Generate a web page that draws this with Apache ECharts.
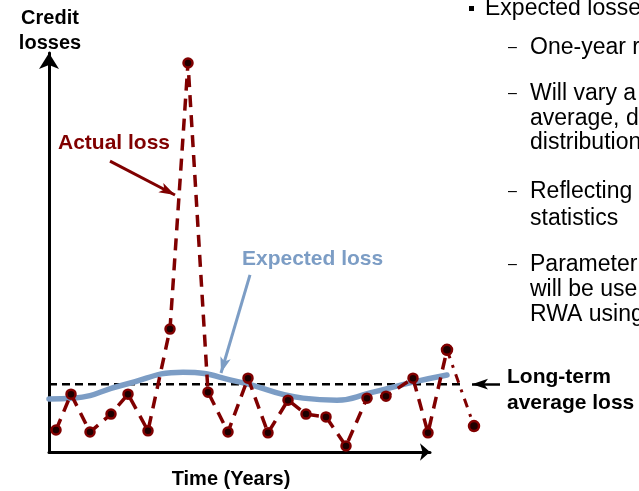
<!DOCTYPE html>
<html>
<head>
<meta charset="utf-8">
<script src="https://cdn.jsdelivr.net/npm/echarts@6/dist/echarts.min.js"></script>
<style>
  html, body { margin: 0; padding: 0; background: #fff; }
  #chart { width: 639px; height: 491px; }
</style>
</head>
<body>
<div id="chart"></div>
<script>
// time in years along x, credit loss (share of axis height) along y
const actualYears = [0.35, 1.1, 2.05, 3.1, 3.95, 4.95, 6.05, 6.95, 7.95, 8.95, 9.95, 10.95, 11.95, 12.85, 13.85, 14.85, 15.9, 16.85, 18.2, 18.95, 19.9]
const actualLoss = [5.5, 14.5, 5, 9.5, 14.5, 5.3, 30.8, 97.5, 15, 5, 18.5, 4.8, 13, 9.5, 8.8, 1.5, 13.5, 14, 18.5, 4.8, 25.6]
const tailYears = [19.9, 21.25]
const tailLoss = [25.6, 6.5]
const expectedYears = [0, 1.2, 3.7, 6.7, 9.55, 12.7, 14.4, 16.05, 18.2, 19.9]
const expectedLoss = [13.3, 13.5, 16.8, 20, 17.5, 13.5, 13, 14.8, 17.5, 19.3]
const averageYears = [0, 20.7]
const averageLoss = 17

const darkRed = '#800000'
const steelBlue = '#7c9dc5'
const zip = (xs, ys) => xs.map((x, i) => [x, Array.isArray(ys) ? ys[i] : ys])

const chart = echarts.init(document.getElementById('chart'))

const hiddenAxis = {
  axisLine: { show: false },
  axisTick: { show: false },
  axisLabel: { show: false },
  splitLine: { show: false }
}

chart.setOption({
  animation: false,
  grid: [
    // grid 0 only draws the arrowed axes
    { left: 49, top: 53, right: 209, bottom: 39, containLabel: false },
    // grid 1 holds the data; same scale (20px per year) but wider so the tail is not cut
    { left: 49, top: 53, right: 129, bottom: 39, containLabel: false }
  ],
  xAxis: [
    {
      type: 'value',
      gridIndex: 0,
      min: 0,
      max: 19.05,
      axisLine: {
        lineStyle: { color: '#000', width: 3 },
        symbol: ['none', 'arrow'],
        symbolSize: [13, 10]
      },
      axisTick: { show: false },
      axisLabel: { show: false },
      splitLine: { show: false }
    },
    Object.assign({ type: 'value', gridIndex: 1, min: 0, max: 23.05 }, hiddenAxis)
  ],
  yAxis: [
    {
      type: 'value',
      gridIndex: 0,
      min: 0,
      max: 100,
      axisLine: {
        show: true,
        lineStyle: { color: '#000', width: 3 },
        symbol: ['none', 'arrow'],
        symbolSize: [15, 16]
      },
      axisTick: { show: false },
      axisLabel: { show: false },
      splitLine: { show: false }
    },
    Object.assign({ type: 'value', gridIndex: 1, min: 0, max: 100 }, hiddenAxis)
  ],
  series: [
    {
      name: 'Long-term average loss',
      type: 'line',
      xAxisIndex: 1,
      yAxisIndex: 1,
      clip: false,
      z: 1,
      symbol: 'none',
      data: zip(averageYears, averageLoss),
      lineStyle: { color: '#000', width: 2.5, type: [8, 5] },
      markLine: {
        silent: true,
        symbol: ['none', 'arrow'],
        label: { show: false },
        emphasis: { disabled: true },
        data: [
          [
            { coord: [3.05, 72.9], symbolSize: [14, 17], lineStyle: { color: darkRed, width: 3, type: 'solid' } },
            { coord: [6.3, 64.4] }
          ],
          [
            { coord: [10.05, 44.4], symbolSize: [14, 17], lineStyle: { color: steelBlue, width: 3, type: 'solid' } },
            { coord: [8.6, 19.8] }
          ],
          [
            { coord: [22.55, 17], symbolSize: [14, 12], lineStyle: { color: '#000', width: 2.5, type: 'solid' } },
            { coord: [21.15, 17] }
          ]
        ]
      }
    },
    {
      name: 'Expected loss',
      type: 'line',
      xAxisIndex: 1,
      yAxisIndex: 1,
      clip: false,
      z: 2,
      smooth: true,
      symbol: 'none',
      data: zip(expectedYears, expectedLoss),
      lineStyle: { color: steelBlue, width: 5.5, cap: 'round' }
    },
    {
      name: 'Actual loss',
      type: 'line',
      xAxisIndex: 1,
      yAxisIndex: 1,
      clip: false,
      z: 3,
      symbol: 'circle',
      symbolSize: 9,
      data: zip(actualYears, actualLoss),
      lineStyle: { color: darkRed, width: 3.5, type: [12, 8] },
      itemStyle: { color: '#1e0000', borderColor: darkRed, borderWidth: 2.5 }
    },
    {
      name: 'Actual loss tail',
      type: 'line',
      xAxisIndex: 1,
      yAxisIndex: 1,
      clip: false,
      z: 3,
      symbol: 'circle',
      symbolSize: 10,
      data: zip(tailYears, tailLoss),
      lineStyle: { color: darkRed, width: 3, type: [9, 7, 3, 7] },
      itemStyle: { color: '#1e0000', borderColor: darkRed, borderWidth: 2.5 }
    }
  ],
  graphic: [
    // axis titles
    { type: 'text', x: 50, y: 18, style: { text: 'Credit', font: 'bold 20px "Liberation Sans", Arial', fill: '#000', align: 'center', verticalAlign: 'middle' } },
    { type: 'text', x: 50, y: 43, style: { text: 'losses', font: 'bold 20px "Liberation Sans", Arial', fill: '#000', align: 'center', verticalAlign: 'middle' } },
    { type: 'text', x: 231, y: 479, style: { text: 'Time (Years)', font: 'bold 20px "Liberation Sans", Arial', fill: '#000', align: 'center', verticalAlign: 'middle' } },
    // callouts
    { type: 'text', x: 58, y: 143, style: { text: 'Actual loss', font: 'bold 21px "Liberation Sans", Arial', fill: darkRed, verticalAlign: 'middle' } },
    { type: 'text', x: 242, y: 259, style: { text: 'Expected loss', font: 'bold 21px "Liberation Sans", Arial', fill: steelBlue, verticalAlign: 'middle' } },
    { type: 'text', x: 507, y: 377, style: { text: 'Long-term', font: 'bold 21px "Liberation Sans", Arial', fill: '#000', verticalAlign: 'middle' } },
    { type: 'text', x: 507, y: 403, style: { text: 'average loss', font: 'bold 21px "Liberation Sans", Arial', fill: '#000', verticalAlign: 'middle' } },
    // side notes
    { type: 'rect', shape: { x: 469, y: 6, width: 5, height: 5 }, style: { fill: '#000' } },
    { type: 'text', x: 485, y: 9, style: { text: 'Expected losses', font: '23px "Liberation Sans", Arial', fill: '#000', verticalAlign: 'middle' } },
    { type: 'text', x: 508, y: 48, style: { text: '–', font: '16px "Liberation Sans", Arial', fill: '#000', verticalAlign: 'middle' } },
    { type: 'text', x: 530, y: 48, style: { text: 'One-year r', font: '23px "Liberation Sans", Arial', fill: '#000', verticalAlign: 'middle' } },
    { type: 'text', x: 508, y: 94, style: { text: '–', font: '16px "Liberation Sans", Arial', fill: '#000', verticalAlign: 'middle' } },
    { type: 'text', x: 530, y: 94, style: { text: 'Will vary a', font: '23px "Liberation Sans", Arial', fill: '#000', verticalAlign: 'middle' } },
    { type: 'text', x: 530, y: 119, style: { text: 'average, d', font: '23px "Liberation Sans", Arial', fill: '#000', verticalAlign: 'middle' } },
    { type: 'text', x: 530, y: 143, style: { text: 'distribution', font: '23px "Liberation Sans", Arial', fill: '#000', verticalAlign: 'middle' } },
    { type: 'text', x: 508, y: 192, style: { text: '–', font: '16px "Liberation Sans", Arial', fill: '#000', verticalAlign: 'middle' } },
    { type: 'text', x: 530, y: 192, style: { text: 'Reflecting', font: '23px "Liberation Sans", Arial', fill: '#000', verticalAlign: 'middle' } },
    { type: 'text', x: 530, y: 219, style: { text: 'statistics', font: '23px "Liberation Sans", Arial', fill: '#000', verticalAlign: 'middle' } },
    { type: 'text', x: 508, y: 265, style: { text: '–', font: '16px "Liberation Sans", Arial', fill: '#000', verticalAlign: 'middle' } },
    { type: 'text', x: 530, y: 265, style: { text: 'Parameter', font: '23px "Liberation Sans", Arial', fill: '#000', verticalAlign: 'middle' } },
    { type: 'text', x: 530, y: 290, style: { text: 'will be use', font: '23px "Liberation Sans", Arial', fill: '#000', verticalAlign: 'middle' } },
    { type: 'text', x: 530, y: 315, style: { text: 'RWA using', font: '23px "Liberation Sans", Arial', fill: '#000', verticalAlign: 'middle' } }
  ]
})
</script>
</body>
</html>
